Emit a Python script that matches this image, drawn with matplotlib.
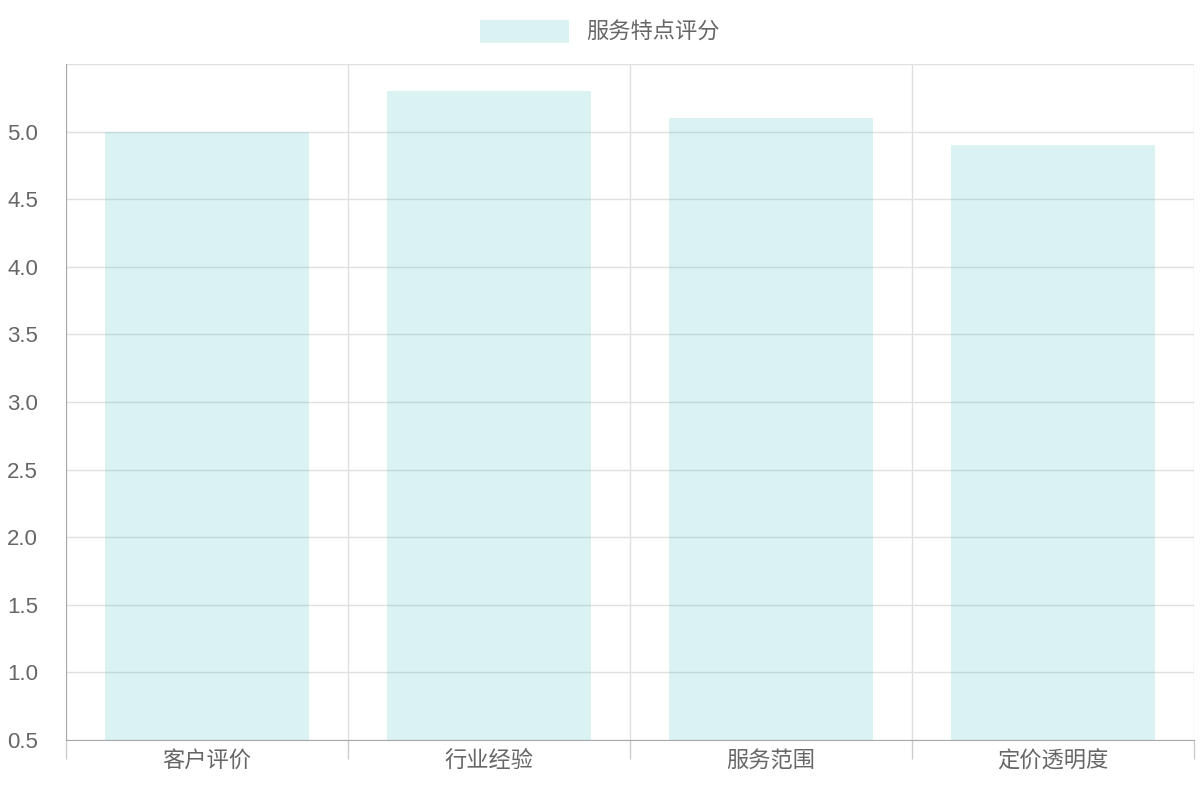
import matplotlib
matplotlib.use("Agg")
import matplotlib.pyplot as plt
from matplotlib.ticker import FixedLocator, MultipleLocator

categories = ["客户评价", "行业经验", "服务范围", "定价透明度"]
values = [4.5, 4.8, 4.6, 4.4]
series_name = "服务特点评分"

plt.rcParams['font.family'] = ['Liberation Sans', 'Noto Sans CJK SC', 'DejaVu Sans']
fig = plt.figure(figsize=(12, 8), dpi=100)
ax = fig.add_axes([66/1200, 60/800, 1128/1200, 676/800])
x = list(range(len(categories)))
ax.bar(x, values, width=0.72, color=(75/255, 192/255, 192/255, 0.2), label=series_name, zorder=1)
ax.set_xlim(-0.5, len(categories) - 0.5)
ax.set_ylim(0, 5)
ax.yaxis.set_major_locator(MultipleLocator(0.5))
ax.set_yticklabels(["0"] + [f"{v:.1f}" for v in [0.5*i for i in range(1, 11)]])
ax.set_xticks(x)
ax.set_xticklabels(categories)
ax.xaxis.set_minor_locator(FixedLocator([i - 0.5 for i in range(len(categories) + 1)]))
ax.tick_params(axis='x', which='major', length=0, pad=8, labelsize=16, labelcolor='#666666')
ax.tick_params(axis='x', which='minor', length=14, color='#cccccc', width=1)
ax.tick_params(axis='y', length=0, pad=20, labelsize=16, labelcolor='#666666')
for lbl in ax.get_yticklabels():
    lbl.set_horizontalalignment('right')
ax.grid(True, axis='y', color='#e0e0e0', linewidth=1, zorder=0)
ax.grid(True, axis='x', which='minor', color='#e0e0e0', linewidth=1, zorder=0)
ax.set_axisbelow(True)
for s in ['top', 'right']:
    ax.spines[s].set_visible(False)
ax.spines['left'].set_color('#aaaaaa')
ax.spines['bottom'].set_color('#aaaaaa')
leg = fig.legend(loc='upper center', bbox_to_anchor=(0.5, 1.0), frameon=False, fontsize=16,
                 handlelength=4, handleheight=1.2, labelcolor='#666666')
fig.savefig("out.png")
